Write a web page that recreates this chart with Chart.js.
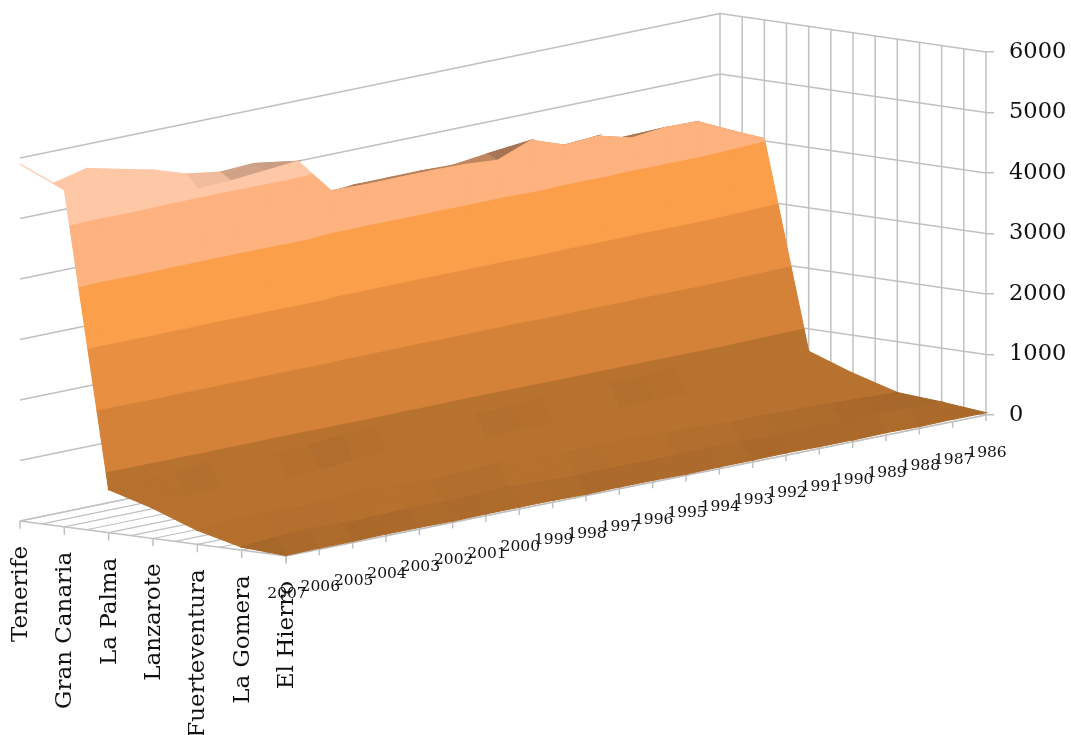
<!DOCTYPE html>
<html lang="en">
<head>
    <meta charset="UTF-8">
    <title>Canary Islands surface</title>
    <script src="https://cdn.jsdelivr.net/npm/chart.js"></script>
    <style>
        html, body { margin: 0; padding: 0; background: #fff; }
        #chart { display: block; }
    </style>
</head>
<body>
    <canvas id="chart" width="1071" height="735"></canvas>

    <script>
        const islands = ['Tenerife', 'Gran Canaria', 'La Palma', 'Lanzarote', 'Fuerteventura', 'La Gomera', 'El Hierro'];
        const years = [2007, 2006, 2005, 2004, 2003, 2002, 2001, 2000, 1999, 1998, 1997, 1996, 1995, 1994, 1993, 1992, 1991, 1990, 1989, 1988, 1987, 1986];
        const valueTicks = [0, 1000, 2000, 3000, 4000, 5000, 6000];

        // one list per island, same order as years
        const tenerife = [5900, 5470, 5600, 5470, 5347, 5167, 5086, 5112, 4980, 4360, 4416, 4416, 4420, 4406, 4474, 4493, 4314, 4330, 4281, 4248, 4180, 3990];
        const granCanaria = [5570, 5290, 5420, 5230, 5130, 5150, 5200, 5250, 4650, 4633, 4638, 4640, 4630, 4585, 4803, 4610, 4648, 4500, 4557, 4545, 4285, 4040];
        const laPalma = [710, 760, 780, 830, 790, 740, 760, 820, 860, 780, 740, 720, 720, 760, 790, 760, 770, 800, 840, 760, 690, 630];
        const lanzarote = [500, 560, 620, 600, 540, 560, 620, 640, 600, 540, 520, 560, 540, 530, 560, 600, 580, 540, 520, 470, 420, 370];
        const fuerteventura = [230, 280, 300, 270, 290, 330, 300, 280, 300, 330, 310, 280, 290, 300, 280, 260, 230, 230, 220, 200, 180, 160];
        const laGomera = [50, 100, 130, 100, 110, 130, 120, 130, 150, 130, 110, 120, 110, 120, 130, 110, 110, 120, 120, 130, 120, 110];
        const elHierro = [10, 20, 20, 30, 30, 20, 30, 30, 30, 20, 30, 30, 20, 30, 30, 40, 30, 30, 40, 30, 40, 40];
        const series = [tenerife, granCanaria, laPalma, lanzarote, fuerteventura, laGomera, elHierro];

        // band colours, lowest band first
        const bandColors = ['#b8722f', '#d58239', '#e98f41', '#fb9f4b', '#fdb27f', '#fec7a6'];

        // the view: where the floor corners land, how many px one unit of value is
        const PX_PER_VALUE = 0.0605;
        const ZERO_PX = 415;
        const CANVAS_H = 735;
        const AREA_RIGHT = 986;
        const floorFrontLeft = [20, 521];
        const floorFrontRight = [286, 556];
        const floorBackLeft = [720, 376.5];
        const floorBackRight = [986, 415];
        const GRID = '#c0c0c0';
        const FONT = '"DejaVu Serif"';

        // island index, year index, value -> chart data coordinates
        function project(i, j, v) {
            const u = i / (islands.length - 1);
            const w = j / (years.length - 1);
            const px = (1 - u) * (1 - w) * floorFrontLeft[0] + u * (1 - w) * floorFrontRight[0] + (1 - u) * w * floorBackLeft[0] + u * w * floorBackRight[0];
            const py = (1 - u) * (1 - w) * floorFrontLeft[1] + u * (1 - w) * floorFrontRight[1] + (1 - u) * w * floorBackLeft[1] + u * w * floorBackRight[1];
            return { x: px, y: (ZERO_PX - py) / PX_PER_VALUE + v };
        }

        function clipBand(poly, limit, keepAbove) {
            const out = [];
            for (let n = 0; n < poly.length; n++) {
                const a = poly[n];
                const b = poly[(n + 1) % poly.length];
                const aIn = keepAbove ? a.v >= limit : a.v <= limit;
                const bIn = keepAbove ? b.v >= limit : b.v <= limit;
                if (aIn) out.push(a);
                if (aIn !== bIn) {
                    const t = (limit - a.v) / (b.v - a.v);
                    out.push({ i: a.i + (b.i - a.i) * t, j: a.j + (b.j - a.j) * t, v: limit });
                }
            }
            return out;
        }

        // simple lighting, faces turned away from the viewer get darker
        function shade(a, b, c) {
            const sx = 0.5 / 6, sy = 1.6 / 21, sz = 1 / 6000;
            const e1 = [(b.i - a.i) * sx, (b.j - a.j) * sy, (b.v - a.v) * sz];
            const e2 = [(c.i - a.i) * sx, (c.j - a.j) * sy, (c.v - a.v) * sz];
            let n = [e1[1] * e2[2] - e1[2] * e2[1], e1[2] * e2[0] - e1[0] * e2[2], e1[0] * e2[1] - e1[1] * e2[0]];
            if (n[2] < 0) n = n.map(d => -d);
            const nx = n[0] / (Math.hypot(n[0], n[1], n[2]) || 1);
            // the low floor only varies a little
            if (Math.max(a.v, b.v, c.v) < 1000) return Math.min(1, 0.88 + (nx < 0 ? 0.1 : 0.3) * nx);
            return Math.min(1, 0.94 + (nx < 0 ? 0.55 : 0.2) * nx);
        }

        function tint(hex, f) {
            const n = parseInt(hex.slice(1), 16);
            return `rgb(${Math.round((n >> 16) * f)}, ${Math.round(((n >> 8) & 255) * f)}, ${Math.round((n & 255) * f)})`;
        }

        function polygonDataset(poly, color) {
            const pts = poly.map(p => project(p.i, p.j, p.v));
            pts.push(pts[0]);
            return { data: pts, showLine: true, pointRadius: 0, borderColor: color, borderWidth: 1.1, backgroundColor: color, fill: 'shape', clip: false };
        }

        function lineDataset(a, b, width) {
            return { data: [a, b], showLine: true, pointRadius: 0, borderColor: GRID, borderWidth: width || 1.5, fill: false, clip: false };
        }

        function buildGrid() {
            const out = [];
            const lastI = islands.length - 1;
            const lastJ = years.length - 1;
            valueTicks.forEach(v => {
                out.push(lineDataset(project(0, 0, v), project(0, lastJ, v)));
                out.push(lineDataset(project(0, lastJ, v), project(lastI, lastJ, v)));
            });
            for (let i = 0; i <= lastI; i += 0.5) {
                out.push(lineDataset(project(i, lastJ, 0), project(i, lastJ, 6000)));
                out.push(lineDataset(project(i, 0, 0), project(i, lastJ, 0), 1.2));
            }
            out.push(lineDataset(project(0, 0, 0), project(lastI, 0, 0)));
            out.push(lineDataset(project(lastI, 0, 0), project(lastI, lastJ, 0)));
            islands.forEach((name, i) => out.push(lineDataset(project(i, 0, 0), project(i, 0, -130))));
            years.forEach((y, j) => out.push(lineDataset(project(lastI, j, 0), project(lastI, j, -100))));
            return out;
        }

        function buildSurface() {
            const out = [];
            for (let i = 0; i < islands.length - 1; i++) {
                for (let j = years.length - 2; j >= 0; j--) {
                    const a = { i: i, j: j + 1, v: series[i][j + 1] };
                    const b = { i: i + 1, j: j + 1, v: series[i + 1][j + 1] };
                    const c = { i: i + 1, j: j, v: series[i + 1][j] };
                    const d = { i: i, j: j, v: series[i][j] };
                    // split on the short diagonal of the cell on screen
                    [[a, b, c], [a, c, d]].forEach(tri => {
                        const f = shade(tri[0], tri[1], tri[2]);
                        bandColors.forEach((color, k) => {
                            let poly = clipBand(tri, valueTicks[k], true);
                            if (poly.length) poly = clipBand(poly, valueTicks[k + 1], false);
                            if (poly.length >= 3) out.push(polygonDataset(poly, tint(color, f)));
                        });
                    });
                }
            }
            return out;
        }

        const axisLabels = {
            id: 'axisLabels',
            afterDraw(chart) {
                const { ctx, scales } = chart;
                const lastI = islands.length - 1;
                ctx.save();
                ctx.fillStyle = '#111';
                ctx.font = `23px ${FONT}`;
                ctx.textAlign = 'right';
                ctx.textBaseline = 'middle';
                islands.forEach((name, i) => {
                    const p = project(i, 0, 0);
                    ctx.save();
                    ctx.translate(scales.x.getPixelForValue(p.x) + 1, scales.y.getPixelForValue(p.y) + 25);
                    ctx.rotate(-Math.PI / 2);
                    ctx.fillText(name, 0, 0);
                    ctx.restore();
                });
                ctx.font = `15.5px ${FONT}`;
                ctx.textAlign = 'center';
                years.forEach((year, j) => {
                    const p = project(lastI, j, 0);
                    ctx.fillText(year, scales.x.getPixelForValue(p.x) + 1, scales.y.getPixelForValue(p.y) + 38);
                });
                ctx.restore();
            }
        };

        // Chart.js draws the first dataset on top
        const datasets = buildGrid().concat(buildSurface()).reverse();

        new Chart(document.getElementById('chart'), {
            type: 'scatter',
            data: { datasets: datasets },
            options: {
                responsive: false,
                animation: false,
                events: [],
                layout: { padding: 0 },
                plugins: { legend: { display: false }, tooltip: { enabled: false }, title: { display: false } },
                scales: {
                    x: { type: 'linear', display: false, min: 0, max: AREA_RIGHT },
                    y: {
                        type: 'linear',
                        position: 'right',
                        bounds: 'data',
                        min: (ZERO_PX - CANVAS_H) / PX_PER_VALUE,
                        max: ZERO_PX / PX_PER_VALUE,
                        border: { display: false },
                        grid: { drawOnChartArea: false, tickLength: 8, color: GRID, lineWidth: 1.5 },
                        ticks: { padding: 15, color: '#111', font: { family: FONT, size: 22.5 }, autoSkip: false, callback: v => String(v) },
                        afterBuildTicks(scale) {
                            scale.ticks = valueTicks.map(v => ({ value: v }));
                        },
                        afterFit(scale) {
                            scale.width = 1071 - AREA_RIGHT;
                            scale.paddingTop = 0;
                            scale.paddingBottom = 0;
                        }
                    }
                }
            },
            plugins: [axisLabels]
        });
    </script>
</body>
</html>
